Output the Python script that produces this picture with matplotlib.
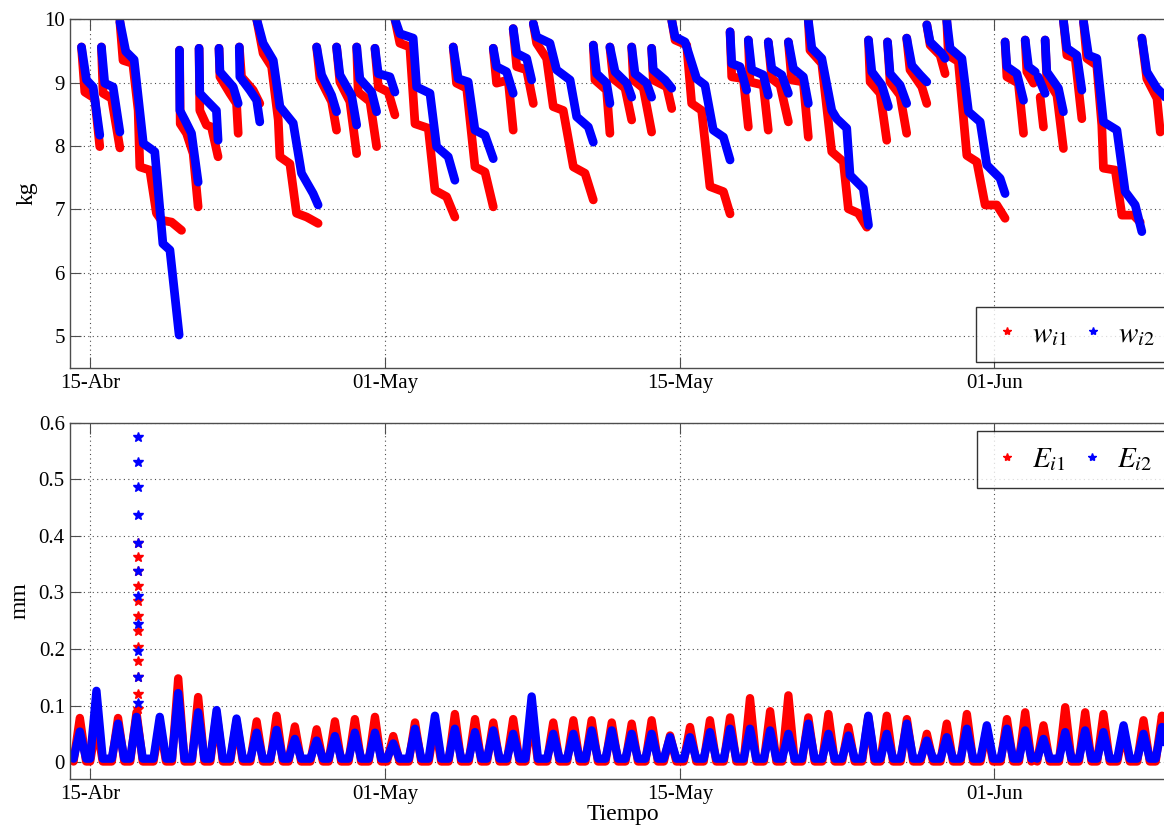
import numpy as np
import matplotlib.pyplot as plt
from matplotlib.lines import Line2D

plt.rcParams['font.family'] = ['Liberation Serif', 'DejaVu Serif']
plt.rcParams['mathtext.fontset'] = 'stix'

# eje x en dias desde 15-Abr (posiciones de las marcas como en la figura original)
tick_pos = [0, 16, 32, 49]
tick_labels = ['15-Abr', '01-May', '15-May', '01-Jun']

# peso de la maceta 1 (rojo), tramos entre riegos: (dia, kg)
w_i1 = [
    [(-0.45, 9.56), (-0.27, 8.85), (0.27, 8.75), (0.54, 7.99)],
    [(0.63, 9.56), (0.72, 8.83), (1.18, 8.75), (1.63, 7.97)],
    [(1.63, 9.96), (1.80, 9.35), (2.33, 9.30), (2.62, 8.56), (2.71, 7.67), (3.25, 7.62),
     (3.61, 6.94), (3.88, 6.83), (4.43, 6.80), (4.97, 6.67)],
    [(4.86, 9.51), (4.90, 8.35), (5.24, 8.20), (5.60, 7.88), (5.87, 7.04)],
    [(5.92, 9.54), (5.96, 8.56), (6.32, 8.33), (6.59, 8.30), (6.95, 7.83)],
    [(7.00, 9.54), (7.05, 9.09), (7.59, 8.83), (7.95, 8.67), (8.04, 8.20)],
    [(8.10, 9.56), (8.22, 9.09), (8.85, 8.88), (9.21, 8.67)],
    [(9.04, 10.0), (9.39, 9.46), (9.85, 9.25), (10.21, 8.41), (10.30, 7.83), (10.84, 7.72),
     (11.20, 6.94), (11.75, 6.88), (12.37, 6.78)],
    [(12.29, 9.56), (12.47, 9.06), (13.10, 8.70), (13.37, 8.25)],
    [(13.37, 9.56), (13.55, 9.01), (14.09, 8.70), (14.46, 7.88)],
    [(14.46, 9.56), (14.54, 8.85), (15.18, 8.70), (15.54, 7.99)],
    [(15.45, 9.54), (15.63, 8.93), (16.17, 8.85), (16.53, 8.49)],
    [(16.53, 10.0), (16.80, 9.62), (17.34, 9.56), (17.62, 8.35), (18.34, 8.28), (18.70, 7.30),
     (19.33, 7.20), (19.78, 6.88)],
    [(19.69, 9.56), (19.87, 8.99), (20.42, 8.91), (20.87, 7.67), (21.41, 7.59), (21.86, 7.04)],
    [(21.86, 9.54), (22.04, 8.99), (22.67, 9.04), (22.94, 8.25)],
    [(22.94, 9.85), (23.13, 9.25), (23.67, 9.20), (24.03, 8.67)],
    [(24.03, 9.93), (24.21, 9.62), (24.75, 9.38), (25.11, 8.62), (25.65, 8.56), (26.20, 7.67),
     (26.83, 7.57), (27.28, 7.15)],
    [(27.28, 9.59), (27.37, 9.04), (28.00, 8.88), (28.18, 8.20)],
    [(28.18, 9.56), (28.36, 9.06), (29.00, 8.91), (29.36, 8.41)],
    [(29.36, 9.56), (29.45, 9.04), (29.99, 8.91), (30.44, 8.22)],
    [(30.44, 9.54), (30.53, 9.04), (31.26, 8.93), (31.53, 8.59)],
    [(31.53, 9.98), (31.71, 9.67), (32.34, 9.59), (32.61, 8.67), (33.15, 8.56), (33.60, 7.36),
     (34.33, 7.28), (34.69, 6.93)],
    [(34.69, 9.80), (34.78, 9.09), (35.41, 9.06), (35.68, 8.30)],
    [(35.68, 9.67), (35.77, 9.01), (36.49, 8.96), (36.76, 8.25)],
    [(36.76, 9.64), (36.95, 9.06), (37.40, 8.96), (37.85, 8.38)],
    [(37.85, 9.64), (38.03, 9.04), (38.66, 9.01), (38.93, 8.14)],
    [(38.93, 9.98), (39.02, 9.51), (39.66, 9.30), (40.20, 7.91), (40.83, 7.75), (41.10, 7.01),
     (41.64, 6.94), (42.10, 6.72)],
    [(42.19, 9.67), (42.28, 9.01), (42.82, 8.83), (43.18, 8.09)],
    [(43.22, 9.64), (43.36, 9.01), (43.90, 8.80), (44.26, 8.20)],
    [(44.26, 9.70), (44.44, 9.20), (45.08, 8.93), (45.35, 8.67)],
    [(45.35, 9.91), (45.53, 9.59), (46.07, 9.43), (46.34, 9.14)],
    [(46.43, 9.98), (46.52, 9.43), (47.06, 9.33), (47.52, 7.85), (48.06, 7.75), (48.51, 7.07),
     (49.14, 7.07), (49.59, 6.86)],
    [(49.59, 9.64), (49.69, 9.09), (50.31, 8.99), (50.59, 8.20)],
    [(50.68, 9.67), (50.77, 9.17), (51.13, 8.99)],
    [(51.49, 8.77), (51.67, 8.30)],
    [(51.76, 9.67), (51.85, 9.06), (52.40, 8.80), (52.75, 7.96)],
    [(52.75, 9.98), (52.94, 9.43), (53.39, 9.38), (53.75, 8.43)],
    [(53.84, 9.96), (54.02, 9.38), (54.56, 9.27), (54.83, 8.33), (54.92, 7.65), (55.56, 7.62),
     (55.92, 6.91), (56.55, 6.91), (56.91, 6.80)],
    [(57.00, 9.70), (57.27, 9.06), (57.82, 8.75), (58.00, 8.22)],
]

# peso de la maceta 2 (azul)
w_i2 = [
    [(-0.45, 9.56), (-0.18, 9.04), (0.18, 8.93), (0.54, 8.17)],
    [(0.63, 9.56), (0.81, 8.99), (1.26, 8.93), (1.63, 8.22)],
    [(1.63, 9.96), (1.95, 9.49), (2.40, 9.36), (2.90, 8.04), (3.52, 7.91), (3.96, 6.46),
     (4.34, 6.36), (4.84, 5.02)],
    [(4.86, 9.51), (4.88, 8.56), (5.15, 8.41), (5.51, 8.20), (5.87, 7.43)],
    [(5.92, 9.54), (5.96, 8.83), (6.32, 8.72), (6.86, 8.56), (6.95, 8.09)],
    [(7.00, 9.54), (7.05, 9.17), (7.77, 8.93), (8.04, 8.67)],
    [(8.10, 9.56), (8.13, 9.09), (8.67, 8.88), (9.04, 8.72), (9.21, 8.38)],
    [(9.04, 10.0), (9.39, 9.62), (9.94, 9.35), (10.30, 8.62), (11.02, 8.36), (11.47, 7.57),
     (12.10, 7.25), (12.37, 7.07)],
    [(12.29, 9.56), (12.56, 9.12), (13.10, 8.80), (13.37, 8.54)],
    [(13.37, 9.56), (13.55, 9.12), (14.18, 8.80), (14.46, 8.33)],
    [(14.46, 9.56), (14.63, 9.06), (15.27, 8.85), (15.54, 8.54)],
    [(15.45, 9.54), (15.63, 9.14), (16.26, 9.09), (16.53, 8.85)],
    [(16.53, 10.0), (16.80, 9.77), (17.52, 9.70), (17.71, 8.93), (18.43, 8.83), (18.79, 7.99),
     (19.42, 7.83), (19.78, 7.46)],
    [(19.69, 9.56), (19.96, 9.06), (20.50, 9.01), (20.87, 8.25), (21.41, 8.17), (21.86, 7.80)],
    [(21.86, 9.54), (22.04, 9.25), (22.58, 9.17), (22.94, 8.83)],
    [(22.94, 9.85), (23.13, 9.46), (23.67, 9.38), (23.94, 9.04)],
    [(24.03, 9.93), (24.21, 9.72), (24.93, 9.62), (25.29, 9.20), (26.02, 9.04), (26.38, 8.46),
     (27.01, 8.30), (27.28, 8.06)],
    [(27.28, 9.59), (27.46, 9.14), (28.00, 8.99), (28.18, 8.67)],
    [(28.18, 9.56), (28.46, 9.17), (29.09, 8.99), (29.36, 8.77)],
    [(29.36, 9.56), (29.54, 9.14), (30.17, 8.99), (30.44, 8.77)],
    [(30.44, 9.54), (30.53, 9.20), (31.17, 9.04), (31.53, 8.91)],
    [(31.53, 9.98), (31.71, 9.72), (32.25, 9.64), (32.88, 9.06), (33.33, 8.96), (33.78, 8.25),
     (34.33, 8.14), (34.69, 7.78)],
    [(34.69, 9.80), (34.78, 9.30), (35.23, 9.25), (35.59, 8.88)],
    [(35.68, 9.67), (35.86, 9.20), (36.49, 9.12), (36.76, 8.80)],
    [(36.76, 9.64), (36.95, 9.22), (37.49, 9.12), (37.85, 8.83)],
    [(37.85, 9.64), (38.12, 9.22), (38.66, 9.09), (38.93, 8.67)],
    [(38.93, 9.98), (39.12, 9.54), (39.66, 9.38), (40.20, 8.56), (40.47, 8.43), (41.01, 8.28),
     (41.19, 7.54), (41.91, 7.33), (42.19, 6.75)],
    [(42.19, 9.67), (42.37, 9.17), (42.91, 8.96), (43.27, 8.62)],
    [(43.22, 9.64), (43.36, 9.14), (43.90, 8.96), (44.26, 8.67)],
    [(44.26, 9.70), (44.54, 9.27), (44.99, 9.12), (45.35, 9.01)],
    [(45.35, 9.91), (45.53, 9.64), (46.16, 9.46), (46.34, 9.38)],
    [(46.43, 9.98), (46.61, 9.54), (47.25, 9.38), (47.61, 8.54), (48.24, 8.38), (48.60, 7.70),
     (49.32, 7.49), (49.59, 7.25)],
    [(49.59, 9.64), (49.69, 9.25), (50.23, 9.14), (50.59, 8.72)],
    [(50.68, 9.67), (50.86, 9.25), (51.22, 9.17)],
    [(51.38, 9.09), (51.76, 8.83)],
    [(51.76, 9.67), (51.85, 9.17), (52.48, 8.91), (52.75, 8.54)],
    [(52.75, 9.98), (52.94, 9.54), (53.48, 9.43), (53.75, 8.88)],
    [(53.84, 9.96), (54.11, 9.43), (54.56, 9.38), (54.92, 8.38), (55.65, 8.25), (56.10, 7.28),
     (56.64, 7.07), (57.00, 6.65)],
    [(57.00, 9.70), (57.27, 9.17), (57.82, 8.91), (58.20, 8.80), (58.60, 8.60)],
]

# evapotranspiracion: maximo diario de cada maceta (mm)
e_peak_day = [-0.54, 0.36, 1.53, 2.53, 3.79, 4.79, 5.87, 6.87, 7.95, 9.04, 10.12, 11.11,
              12.29, 13.28, 14.36, 15.45, 16.44, 17.62, 18.70, 19.78, 20.87, 21.86, 22.94,
              23.94, 25.11, 26.20, 27.19, 28.28, 29.36, 30.44, 31.44, 32.52, 33.60, 34.69,
              35.77, 36.86, 37.85, 38.93, 40.02, 41.10, 42.18, 43.18, 44.27, 45.35, 46.43,
              47.52, 48.60, 49.69, 50.68, 51.67, 52.85, 53.93, 54.92, 56.01, 57.09, 58.09]
e_i1_peak = [0.078, 0.068, 0.078, 0.088, 0.066, 0.148, 0.115, 0.085, 0.072, 0.072, 0.082, 0.063,
             0.058, 0.072, 0.076, 0.080, 0.046, 0.070, 0.068, 0.085, 0.076, 0.070, 0.076,
             0.085, 0.070, 0.074, 0.074, 0.070, 0.068, 0.074, 0.047, 0.062, 0.074, 0.079,
             0.113, 0.090, 0.118, 0.079, 0.085, 0.062, 0.080, 0.082, 0.076, 0.050, 0.068,
             0.085, 0.059, 0.076, 0.088, 0.065, 0.097, 0.088, 0.085, 0.056, 0.074, 0.082]
e_i2_peak = [0.054, 0.126, 0.068, 0.080, 0.080, 0.122, 0.088, 0.092, 0.077, 0.052, 0.057, 0.041,
             0.038, 0.046, 0.052, 0.052, 0.033, 0.059, 0.082, 0.059, 0.053, 0.056, 0.050,
             0.116, 0.050, 0.050, 0.056, 0.056, 0.050, 0.050, 0.044, 0.044, 0.053, 0.059,
             0.059, 0.056, 0.050, 0.068, 0.050, 0.047, 0.082, 0.050, 0.068, 0.038, 0.044,
             0.059, 0.065, 0.059, 0.056, 0.041, 0.053, 0.056, 0.053, 0.065, 0.050, 0.062]
e_i1_night = 0.001
e_i2_night = 0.006
e_gap_day = 51.3   # hueco sin datos

# muestras del pico aislado tras el riego del 17-Abr
spike_day = 2.62
spike_e_i1 = [0.388, 0.362, 0.337, 0.311, 0.285, 0.259, 0.231, 0.203, 0.178, 0.150, 0.121, 0.094]
spike_e_i2 = [0.574, 0.530, 0.487, 0.437, 0.387, 0.337, 0.294, 0.244, 0.196, 0.150, 0.104]


def hump_line(peaks, night, hw=0.34):
    xs, ys = [], []
    for d, v in zip(e_peak_day, peaks):
        if xs and xs[-1] < e_gap_day < d - hw:
            xs.append(np.nan)
            ys.append(np.nan)
        xs += [d - hw, d, d + hw]
        ys += [night, v, night]
    return xs, ys


def style_axes(ax):
    ax.set_xlim(-1.05, 58.8)
    ax.set_xticks(tick_pos)
    ax.set_xticklabels(tick_labels)
    ax.grid(True, linestyle=(0, (1, 3)), color='0.3', linewidth=0.8)
    ax.tick_params(direction='in', top=True, right=True, length=8, width=0.8,
                   color='0.3', labelsize=15, pad=4)
    for sp in ax.spines.values():
        sp.set_color('0.3')
        sp.set_linewidth(1.0)


fig = plt.figure(figsize=(11.64, 8.3), dpi=100)
ax1 = fig.add_axes([0.0605, 0.5566, 0.949, 0.4204])
ax2 = fig.add_axes([0.0605, 0.0614, 0.949, 0.4293])

lw_top = 6.3
for seg in w_i1:
    d, kg = zip(*seg)
    ax1.plot(d, kg, color='red', lw=lw_top, solid_capstyle='round', solid_joinstyle='round')
for seg in w_i2:
    d, kg = zip(*seg)
    ax1.plot(d, kg, color='blue', lw=lw_top, solid_capstyle='round', solid_joinstyle='round')

style_axes(ax1)
ax1.set_ylim(4.5, 10)
ax1.set_yticks([5, 6, 7, 8, 9, 10])
ax1.set_ylabel('kg', fontsize=17)
ax1.yaxis.set_label_coords(-0.030, 0.5)

h1 = [Line2D([], [], color='red', marker='*', ls='none', ms=6),
      Line2D([], [], color='blue', marker='*', ls='none', ms=6)]
leg_kw = dict(ncol=2, fontsize=21, frameon=True, fancybox=False, edgecolor='black',
              handletextpad=0.3, columnspacing=0.35, handlelength=1.1, borderpad=0.5)
leg1 = ax1.legend(h1, [r'$w_{i1}$', r'$w_{i2}$'], loc='lower right',
                  borderaxespad=0.2, **leg_kw)
leg1.get_frame().set_linewidth(1.0)

x1, y1 = hump_line(e_i1_peak, e_i1_night)
x2, y2 = hump_line(e_i2_peak, e_i2_night)
ax2.plot(x1, y1, color='red', lw=6, solid_joinstyle='round', solid_capstyle='round')
ax2.plot([spike_day] * len(spike_e_i1), spike_e_i1, color='red', marker='*', ls='none', ms=7)
ax2.plot(x2, y2, color='blue', lw=6, solid_joinstyle='round', solid_capstyle='round')
ax2.plot([spike_day] * len(spike_e_i2), spike_e_i2, color='blue', marker='*', ls='none', ms=7)

style_axes(ax2)
ax2.set_ylim(-0.03, 0.6)
ax2.set_yticks([0, 0.1, 0.2, 0.3, 0.4, 0.5, 0.6])
ax2.set_yticklabels(['0', '0.1', '0.2', '0.3', '0.4', '0.5', '0.6'])
ax2.set_ylabel('mm', fontsize=17)
ax2.yaxis.set_label_coords(-0.036, 0.5)
ax2.set_xlabel('Tiempo', fontsize=17, labelpad=0)

leg2 = ax2.legend(h1, [r'$E_{i1}$', r'$E_{i2}$'], loc='upper right',
                  borderaxespad=0.3, **leg_kw)
leg2.get_frame().set_linewidth(1.0)

fig.savefig('out.png', dpi=100, facecolor='white')
